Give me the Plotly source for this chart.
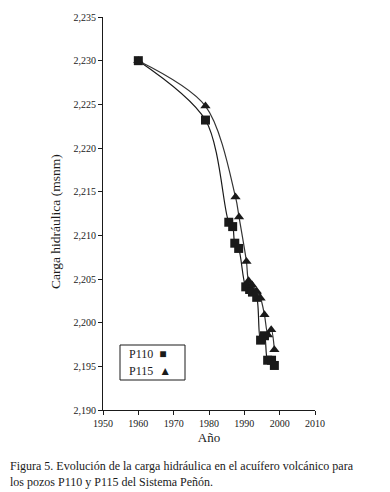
import plotly.graph_objects as go

# P110 (squares)
p110_year = [1960, 1979, 1985.6, 1986.7, 1987.3, 1988.4, 1990.4, 1991.5, 1992.3, 1993.5, 1994.6, 1995.7, 1996.6, 1997.7, 1998.5]
p110_head = [2230.0, 2223.2, 2211.5, 2211.0, 2209.1, 2208.5, 2204.1, 2203.8, 2203.5, 2202.9, 2198.0, 2198.5, 2195.7, 2195.7, 2195.1]

# P115 (triangles)
p115_year = [1960, 1979, 1987.5, 1988.5, 1990.6, 1991.2, 1992.2, 1993.5, 1994.6, 1995.7, 1996.7, 1997.6, 1998.5]
p115_head = [2230.0, 2224.8, 2214.4, 2212.1, 2207.0, 2204.8, 2204.3, 2203.6, 2202.8, 2200.9, 2198.6, 2199.2, 2196.9]

x_ticks = [1950, 1960, 1970, 1980, 1990, 2000, 2010]
y_ticks = [2190, 2195, 2200, 2205, 2210, 2215, 2220, 2225, 2230, 2235]

FONT = "Liberation Serif"
INK = "#1a1a1a"

fig = go.Figure()
fig.add_trace(go.Scatter(
    x=p110_year, y=p110_head, name="P110", mode="lines+markers",
    line=dict(color=INK, width=1.2, shape="spline", smoothing=0.9),
    marker=dict(symbol="square", size=9, color=INK),
))
fig.add_trace(go.Scatter(
    x=p115_year, y=p115_head, name="P115", mode="lines+markers",
    line=dict(color="#333333", width=1.2, shape="spline", smoothing=0.9),
    marker=dict(symbol="triangle-up", size=9, color=INK),
))

fig.update_layout(
    width=382, height=484,
    margin=dict(l=95, r=75, t=9, b=82, autoexpand=False),
    paper_bgcolor="white", plot_bgcolor="white",
    showlegend=False,
    font=dict(family=FONT, color=INK, size=10),
    xaxis=dict(
        range=[1950, 2010], tickvals=x_ticks, ticks="outside", ticklen=4,
        tickcolor=INK, showline=True, linecolor=INK, linewidth=1,
        showgrid=False, zeroline=False, automargin=False,
        tickfont=dict(family=FONT, size=10, color=INK),
        title=dict(text="Año", font=dict(family=FONT, size=13, color=INK), standoff=4),
    ),
    yaxis=dict(
        range=[2190, 2235], tickvals=y_ticks, tickformat=",", ticks="outside", ticklen=4,
        tickcolor=INK, showline=True, linecolor=INK, linewidth=1,
        showgrid=False, zeroline=False, automargin=False,
        tickfont=dict(family=FONT, size=10, color=INK),
    ),
    shapes=[dict(type="rect", xref="paper", yref="paper",
                 x0=(120 - 103) / 212, x1=(185 - 103) / 212,
                 y0=(410 - 380) / 393, y1=(410 - 345) / 393,
                 line=dict(color=INK, width=1), fillcolor="white")],
    annotations=[
        dict(text="Carga hidráulica (msnm)", xref="paper", yref="paper",
             x=(56 - 103) / 212, y=(410 - 222) / 393, textangle=-90,
             xanchor="center", yanchor="middle", showarrow=False,
             font=dict(family=FONT, size=13.5, color=INK)),
        dict(text="P110  ■", xref="paper", yref="paper", x=(127 - 103) / 212, y=(410 - 354) / 393,
             xanchor="left", yanchor="middle", showarrow=False,
             font=dict(family=FONT, size=12, color=INK)),
        dict(text="P115  ▲", xref="paper", yref="paper", x=(127 - 103) / 212, y=(410 - 371) / 393,
             xanchor="left", yanchor="middle", showarrow=False,
             font=dict(family=FONT, size=12, color=INK)),
        dict(text="Figura 5. Evolución de la carga hidráulica en el acuífero volcánico para<br>los pozos P110 y P115 del Sistema Peñón.",
             xref="paper", yref="paper", x=(8 - 103) / 212, y=-(457 - 410) / 393,
             xanchor="left", yanchor="top", align="left", showarrow=False,
             font=dict(family=FONT, size=12, color=INK)),
    ],
)

fig.write_html("out.html")
